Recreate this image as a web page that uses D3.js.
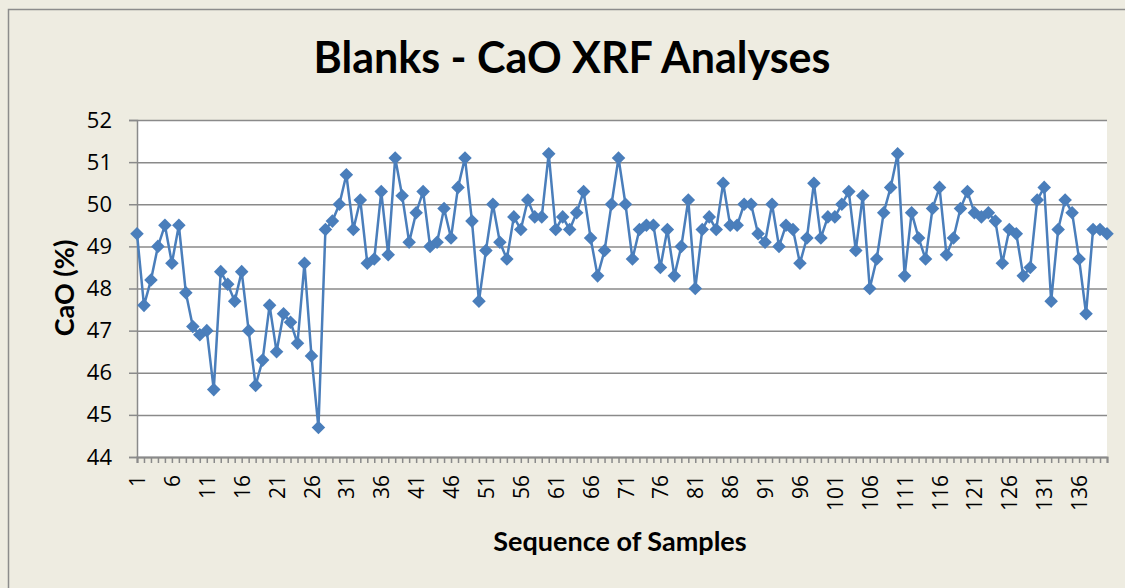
<!DOCTYPE html>
<html>
<head>
<meta charset="utf-8">
<script src="https://cdn.jsdelivr.net/npm/d3@7"></script>
<style>
  html, body { margin: 0; padding: 0; background: #EEECE1; overflow: hidden; }
  svg { display: block; }
</style>
</head>
<body>
<svg id="chart" width="1125" height="588"></svg>
<script>
// chart values
const chartTitle = "Blanks - CaO XRF Analyses";
const xTitle = "Sequence of Samples";
const yTitle = "CaO (%)";

const sampleNumbers = d3.range(1, 141);   // 140 samples in sequence
const caoValues = [
  49.3, 47.6, 48.2, 49.0, 49.5, 48.6, 49.5, 47.9, 47.1, 46.9,
  47.0, 45.6, 48.4, 48.1, 47.7, 48.4, 47.0, 45.7, 46.3, 47.6,
  46.5, 47.4, 47.2, 46.7, 48.6, 46.4, 44.7, 49.4, 49.6, 50.0,
  50.7, 49.4, 50.1, 48.6, 48.7, 50.3, 48.8, 51.1, 50.2, 49.1,
  49.8, 50.3, 49.0, 49.1, 49.9, 49.2, 50.4, 51.1, 49.6, 47.7,
  48.9, 50.0, 49.1, 48.7, 49.7, 49.4, 50.1, 49.7, 49.7, 51.2,
  49.4, 49.7, 49.4, 49.8, 50.3, 49.2, 48.3, 48.9, 50.0, 51.1,
  50.0, 48.7, 49.4, 49.5, 49.5, 48.5, 49.4, 48.3, 49.0, 50.1,
  48.0, 49.4, 49.7, 49.4, 50.5, 49.5, 49.5, 50.0, 50.0, 49.3,
  49.1, 50.0, 49.0, 49.5, 49.4, 48.6, 49.2, 50.5, 49.2, 49.7,
  49.7, 50.0, 50.3, 48.9, 50.2, 48.0, 48.7, 49.8, 50.4, 51.2,
  48.3, 49.8, 49.2, 48.7, 49.9, 50.4, 48.8, 49.2, 49.9, 50.3,
  49.8, 49.7, 49.8, 49.6, 48.6, 49.4, 49.3, 48.3, 48.5, 50.1,
  50.4, 47.7, 49.4, 50.1, 49.8, 48.7, 47.4, 49.4, 49.4, 49.3
];
const yTicks = [44, 45, 46, 47, 48, 49, 50, 51, 52];
const xLabelEvery = 5;

const svg = d3.select("#chart");
const W = 1125, H = 588;
const plot = { left: 137, right: 1107, top: 120, bottom: 457 };

const blue = "#4A7EBB";
const gridGrey = "#8A8A8A";

// outer chart frame (runs off the right/bottom of the picture)
svg.append("rect")
    .attr("x", 8.5).attr("y", 9.5)
    .attr("width", W + 20).attr("height", H + 20)
    .attr("fill", "#EEECE1")
    .attr("stroke", "#8C8C8C")
    .attr("stroke-width", 1.5);

const x = d3.scaleLinear()
    .domain([1, sampleNumbers.length])
    .range([plot.left, plot.right]);

const y = d3.scaleLinear()
    .domain([44, 52])
    .range([plot.bottom, plot.top]);

// plot area
svg.append("rect")
    .attr("x", plot.left).attr("y", plot.top)
    .attr("width", plot.right - plot.left)
    .attr("height", plot.bottom - plot.top)
    .attr("fill", "#fff");

// horizontal gridlines
svg.append("g")
    .attr("transform", `translate(${plot.left},0)`)
    .call(d3.axisLeft(y).tickValues(yTicks).tickSize(-(plot.right - plot.left)).tickFormat(""))
    .call(g => g.select(".domain").remove())
    .selectAll("line")
    .attr("stroke", gridGrey)
    .attr("stroke-width", 1.5);

// y axis
const yAxis = svg.append("g")
    .attr("transform", `translate(${plot.left},0)`)
    .call(d3.axisLeft(y).tickValues(yTicks).tickSize(8).tickPadding(17).tickFormat(d3.format("d")));
yAxis.select(".domain").attr("stroke", gridGrey).attr("stroke-width", 1.5);
yAxis.selectAll(".tick line").attr("stroke", gridGrey).attr("stroke-width", 1.5);
yAxis.selectAll("text")
    .attr("fill", "#000")
    .style("font-family", "'Open Sans', sans-serif")
    .style("font-size", "22px");

// x axis: a tick for every sample, a label for every fifth
const xAxis = svg.append("g")
    .attr("transform", `translate(0,${plot.bottom})`)
    .call(d3.axisBottom(x).tickValues(sampleNumbers).tickSize(6)
        .tickFormat(d => (d - 1) % xLabelEvery === 0 ? d : ""));
xAxis.select(".domain").attr("stroke", gridGrey).attr("stroke-width", 2);
xAxis.selectAll(".tick line").attr("stroke", gridGrey).attr("stroke-width", 1.5);
xAxis.selectAll("text")
    .attr("fill", "#000")
    .attr("transform", "rotate(-90)")
    .attr("x", -18)
    .attr("y", 0)
    .attr("dy", "0.36em")
    .attr("text-anchor", "end")
    .style("font-family", "'Open Sans', sans-serif")
    .style("font-size", "21px");

// series
const line = d3.line()
    .x((d, i) => x(sampleNumbers[i]))
    .y(d => y(d));

svg.append("path")
    .datum(caoValues)
    .attr("fill", "none")
    .attr("stroke", blue)
    .attr("stroke-width", 2.5)
    .attr("stroke-linejoin", "round")
    .attr("d", line);

const diamond = d3.symbol().type(d3.symbolSquare).size(92);
svg.append("g")
    .selectAll("path")
    .data(caoValues)
    .join("path")
    .attr("transform", (d, i) => `translate(${x(sampleNumbers[i])},${y(d)}) rotate(45)`)
    .attr("d", diamond)
    .attr("fill", blue);

// titles
svg.append("text")
    .attr("x", 572).attr("y", 73)
    .attr("text-anchor", "middle")
    .style("font-family", "Lato, sans-serif")
    .style("font-weight", "bold")
    .style("font-size", "43px")
    .text(chartTitle);

svg.append("text")
    .attr("x", 620).attr("y", 551)
    .attr("text-anchor", "middle")
    .style("font-family", "Lato, sans-serif")
    .style("font-weight", "bold")
    .style("font-size", "27px")
    .text(xTitle);

svg.append("text")
    .attr("transform", `translate(74,288) rotate(-90)`)
    .attr("text-anchor", "middle")
    .style("font-family", "Lato, sans-serif")
    .style("font-weight", "bold")
    .style("font-size", "27px")
    .text(yTitle);
</script>
</body>
</html>
